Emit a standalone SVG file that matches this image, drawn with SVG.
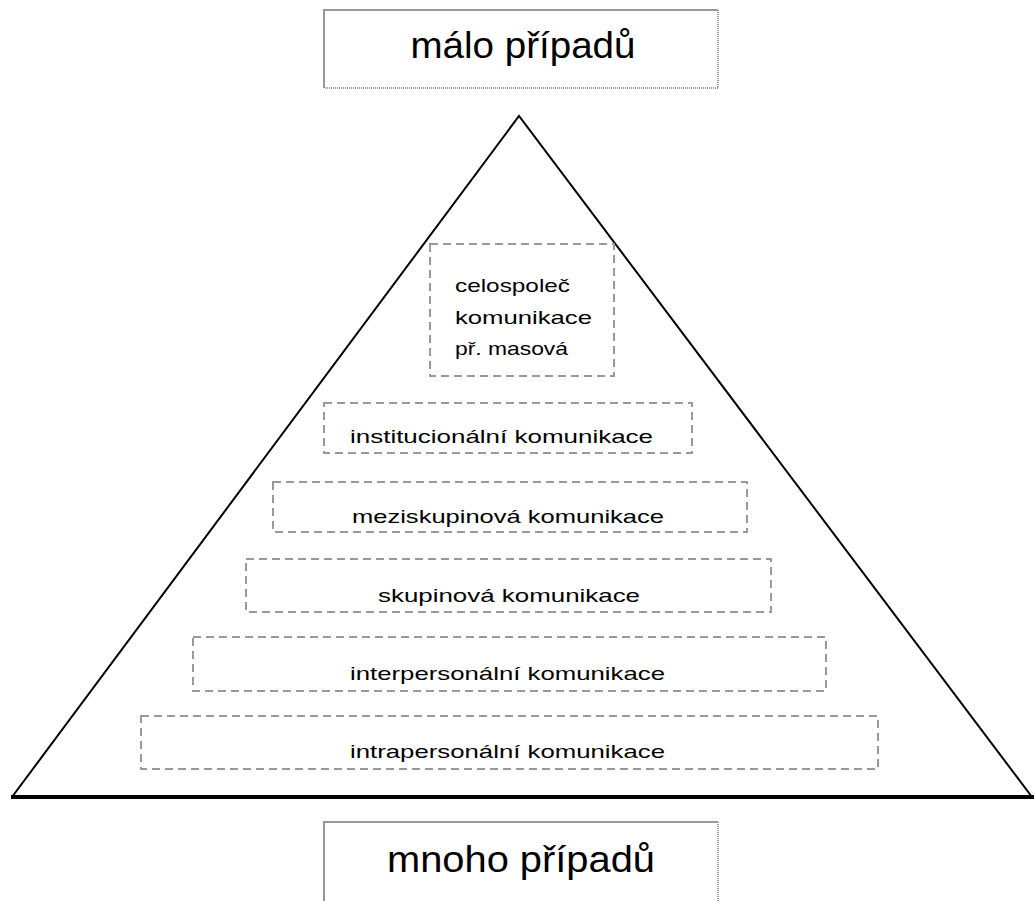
<svg xmlns="http://www.w3.org/2000/svg" width="1035" height="901" viewBox="0 0 1035 901">
<style>
.bg{fill:#fff}
.lbl{fill:none;stroke:#999;stroke-width:2}
.lbld{fill:none;stroke:#999;stroke-width:2;stroke-dasharray:1 1}
.big{font-family:"Liberation Sans",Arial,sans-serif;font-size:36px;fill:#000}
.lvl{fill:none;stroke:#999;stroke-width:2;stroke-dasharray:8 5}
.t{font-family:"Liberation Sans",Arial,sans-serif;font-size:19px;fill:#000}
</style>
<rect class="bg" x="0" y="0" width="1035" height="901"/>
<g id="pyramid">
<polyline points="12,797 519,116 1032,797" fill="none" stroke="#000" stroke-width="2"/>
<line x1="11" y1="797" x2="1034" y2="797" stroke="#000" stroke-width="4"/>
</g>
<g id="top-label">
<path class="lbl" d="M324,88 V10 H718"/>
<path class="lbld" d="M718,10 V88 H324"/>
<text class="big" x="523" y="58" text-anchor="middle" textLength="225" lengthAdjust="spacingAndGlyphs">málo případů</text>
</g>
<g id="bottom-label">
<path class="lbl" d="M324,901 V822 H718"/>
<path class="lbld" d="M718,822 V901"/>
<text class="big" x="521" y="872" text-anchor="middle" textLength="268" lengthAdjust="spacingAndGlyphs">mnoho případů</text>
</g>
<g id="level-1">
<rect class="lvl" x="430" y="244" width="184" height="132"/>
<text class="t" x="455" y="292" textLength="115" lengthAdjust="spacingAndGlyphs">celospoleč</text>
<text class="t" x="455" y="324" textLength="137" lengthAdjust="spacingAndGlyphs">komunikace</text>
<text class="t" x="455" y="355" textLength="113" lengthAdjust="spacingAndGlyphs">př. masová</text>
</g>
<g id="level-2">
<rect class="lvl" x="324" y="403" width="368" height="50"/>
<text class="t" x="350" y="443" textLength="303" lengthAdjust="spacingAndGlyphs">institucionální komunikace</text>
</g>
<g id="level-3">
<rect class="lvl" x="273" y="482" width="474" height="50"/>
<text class="t" x="352" y="523" textLength="312" lengthAdjust="spacingAndGlyphs">meziskupinová komunikace</text>
</g>
<g id="level-4">
<rect class="lvl" x="246" y="559" width="525" height="53"/>
<text class="t" x="378" y="602" textLength="262" lengthAdjust="spacingAndGlyphs">skupinová komunikace</text>
</g>
<g id="level-5">
<rect class="lvl" x="193" y="637" width="633" height="54"/>
<text class="t" x="350" y="680" textLength="315" lengthAdjust="spacingAndGlyphs">interpersonální komunikace</text>
</g>
<g id="level-6">
<rect class="lvl" x="141" y="716" width="737" height="53"/>
<text class="t" x="350" y="758" textLength="315" lengthAdjust="spacingAndGlyphs">intrapersonální komunikace</text>
</g>
<g id="connectors"></g>
</svg>
